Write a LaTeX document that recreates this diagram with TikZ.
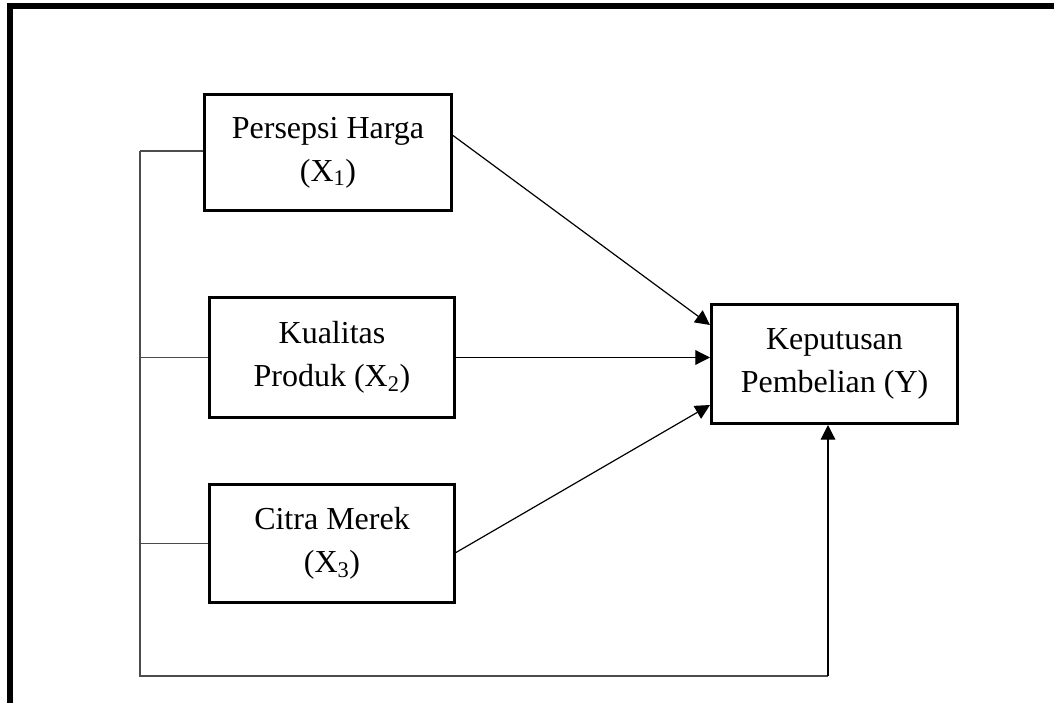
\documentclass[tikz,border=0pt]{standalone}
\usepackage{fontspec}
\setmainfont{Liberation Serif}
\usetikzlibrary{arrows.meta,calc}
\begin{document}
\begin{tikzpicture}[x=0.75pt,y=-0.75pt,
  box/.style={draw,line width=2.25pt,align=center,inner sep=0pt,font=\fontsize{24}{32}\selectfont},
  link/.style={line width=1.2pt,draw=black!70},
  arr/.style={line width=0.9pt,-{Triangle[length=11pt,width=11pt]}},
  frame/.style={line width=4.5pt}]
\useasboundingbox (0,0) rectangle (1054,703);
\draw[frame] (10,703) -- (10,6) -- (1054,6);
\node[box,minimum width=185.25pt,minimum height=87pt] (b1) at (328,152.5) {Persepsi Harga\\(X\textsubscript{1})};
\node[box,minimum width=183.75pt,minimum height=90pt] (b2) at (332,357.5) {Kualitas\\Produk (X\textsubscript{2})};
\node[box,minimum width=183.75pt,minimum height=88.5pt] (b3) at (332,543.5) {Citra Merek\\(X\textsubscript{3})};
\node[box,minimum width=184.5pt,minimum height=89.25pt] (y) at (834.5,364) {Keputusan\\Pembelian (Y)};
\coordinate (top) at (140,151);
\coordinate (bl) at (140,676);
\coordinate (br) at (828,676);
\draw[link] (top) -- (bl) -- (br);
\draw[link] (top) -- (top -| b1.west);
\draw[link] (bl |- b2.west) -- (b2.west);
\draw[link] (bl |- b3.west) -- (b3.west);
\draw[arr] ($(b1.east)+(0,-17)$) -- ($(y.west)+(0,-39)$);
\draw[arr] (b2.east) -- (b2.east -| y.west);
\draw[arr] ($(b3.east)+(0,9)$) -- ($(y.west)+(0,41)$);
\draw[arr] (br) -- (br |- y.south);
\end{tikzpicture}
\end{document}
